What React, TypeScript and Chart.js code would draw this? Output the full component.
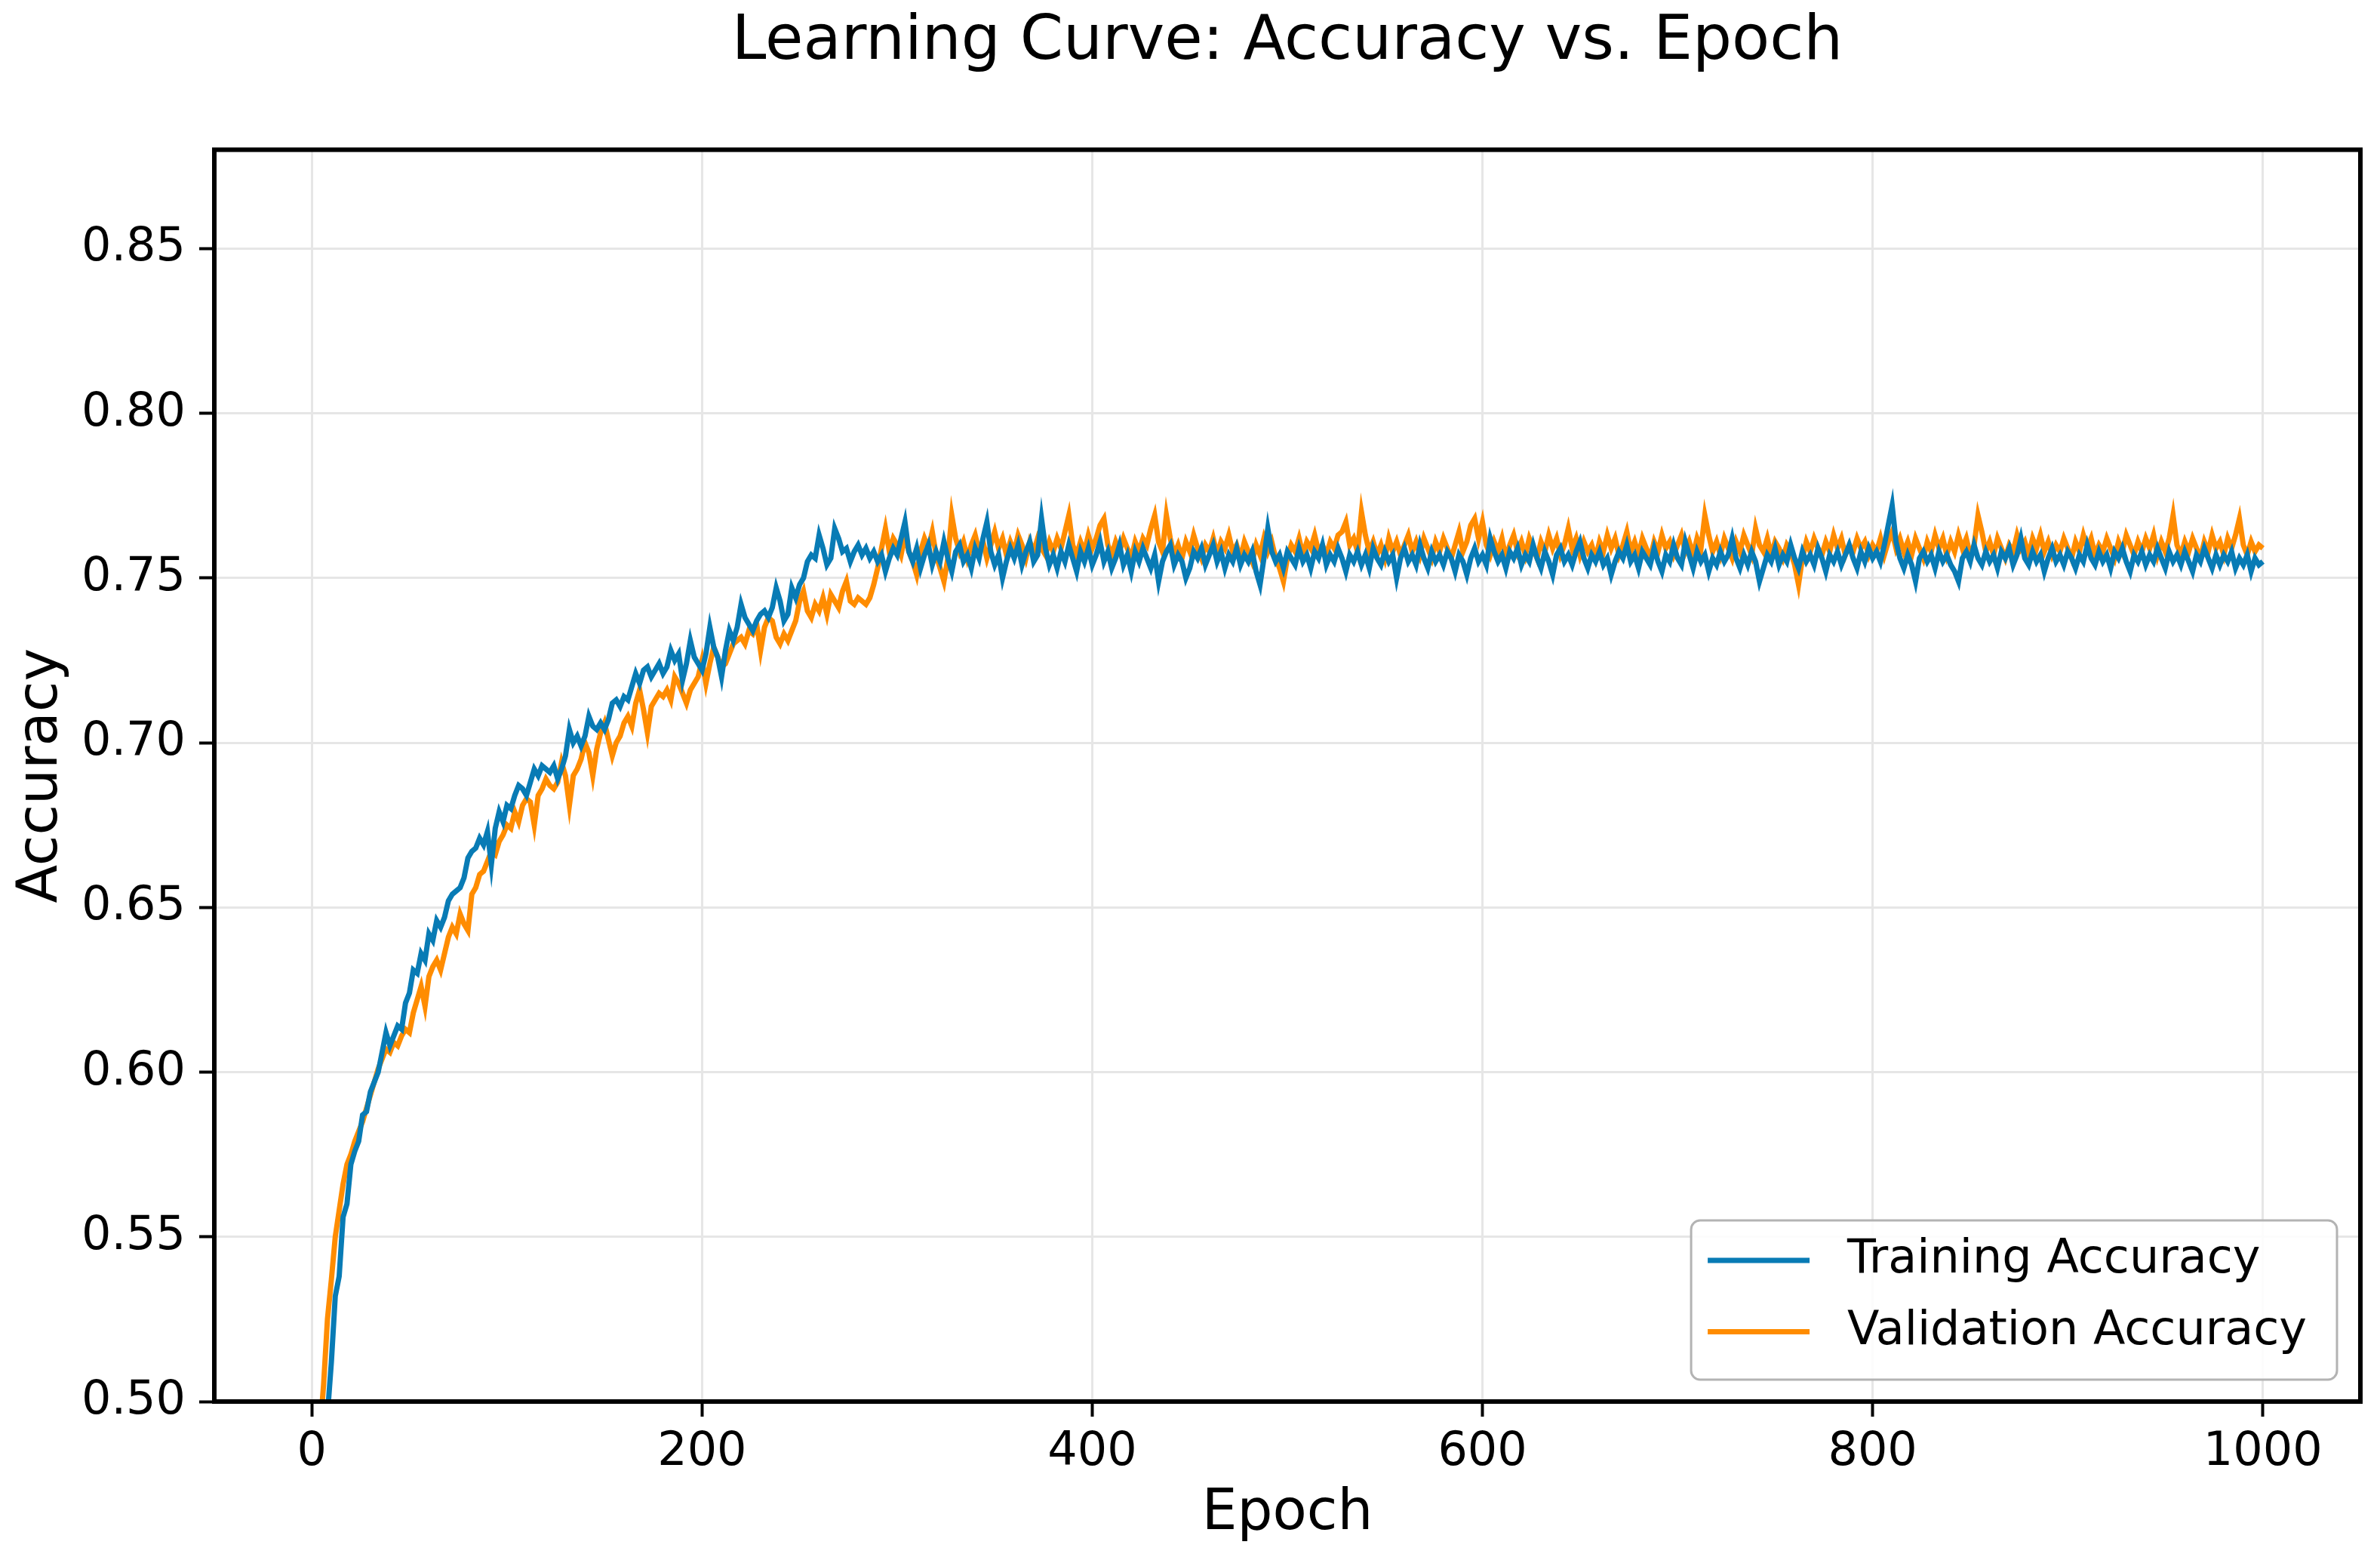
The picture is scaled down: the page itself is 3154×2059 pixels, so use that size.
import { useEffect, useRef } from 'react';
import Chart from 'chart.js/auto';

const TITLE = 'Learning Curve: Accuracy vs. Epoch';
const seriesLabels = ['Training Accuracy', 'Validation Accuracy'];
const seriesColors = ['#087bb5', '#ff8c00'];
const xTicks = [0, 200, 400, 600, 800, 1000];
const yTicks = [0.5, 0.55, 0.6, 0.65, 0.7, 0.75, 0.8, 0.85];
const EPOCH_STEP = 2;

// one value every 2 epochs (0 .. 1000), 10 per row
const trainAcc = [
  0.380, 0.410, 0.440, 0.470, 0.496, 0.512, 0.532, 0.538, 0.556, 0.560,
  0.572, 0.576, 0.579, 0.587, 0.588, 0.594, 0.597, 0.600, 0.606, 0.612,
  0.608, 0.611, 0.614, 0.613, 0.621, 0.624, 0.631, 0.630, 0.636, 0.634,
  0.642, 0.640, 0.646, 0.644, 0.647, 0.652, 0.654, 0.655, 0.656, 0.659,
  0.665, 0.667, 0.668, 0.671, 0.669, 0.673, 0.663, 0.674, 0.679, 0.676,
  0.681, 0.680, 0.684, 0.687, 0.686, 0.684, 0.688, 0.692, 0.690, 0.693,
  0.692, 0.691, 0.693, 0.689, 0.692, 0.696, 0.704, 0.700, 0.702, 0.699,
  0.702, 0.708, 0.705, 0.704, 0.706, 0.704, 0.707, 0.712, 0.713, 0.711,
  0.714, 0.713, 0.717, 0.721, 0.718, 0.722, 0.723, 0.720, 0.722, 0.724,
  0.721, 0.723, 0.728, 0.725, 0.727, 0.719, 0.724, 0.731, 0.726, 0.724,
  0.722, 0.727, 0.735, 0.729, 0.726, 0.720, 0.728, 0.734, 0.731, 0.735,
  0.742, 0.738, 0.736, 0.734, 0.737, 0.739, 0.740, 0.738, 0.741, 0.747,
  0.743, 0.737, 0.739, 0.747, 0.744, 0.748, 0.750, 0.755, 0.757, 0.756,
  0.763, 0.759, 0.754, 0.756, 0.765, 0.762, 0.758, 0.759, 0.755, 0.758,
  0.760, 0.757, 0.759, 0.756, 0.758, 0.755, 0.757, 0.752, 0.756, 0.759,
  0.757, 0.762, 0.767, 0.758, 0.755, 0.759, 0.753, 0.757, 0.760, 0.754,
  0.758, 0.755, 0.761, 0.756, 0.752, 0.758, 0.760, 0.755, 0.757, 0.753,
  0.759, 0.756, 0.762, 0.767, 0.758, 0.754, 0.757, 0.750, 0.755, 0.759,
  0.756, 0.760, 0.754, 0.758, 0.761, 0.755, 0.757, 0.768, 0.759, 0.754,
  0.757, 0.753, 0.758, 0.755, 0.760, 0.756, 0.752, 0.758, 0.755, 0.759,
  0.754, 0.757, 0.761, 0.755, 0.758, 0.753, 0.756, 0.760, 0.754, 0.757,
  0.752, 0.758, 0.755, 0.759, 0.756, 0.753, 0.757, 0.749, 0.755, 0.758,
  0.760, 0.754, 0.757, 0.755, 0.750, 0.753, 0.758, 0.756, 0.759, 0.754,
  0.757, 0.760, 0.755, 0.758, 0.753, 0.757, 0.755, 0.759, 0.754, 0.757,
  0.755, 0.758, 0.752, 0.748, 0.756, 0.765, 0.758, 0.755, 0.757, 0.753,
  0.758, 0.756, 0.754, 0.759, 0.755, 0.757, 0.753, 0.758, 0.756, 0.760,
  0.754, 0.757, 0.755, 0.759, 0.756, 0.752, 0.757, 0.755, 0.758, 0.754,
  0.757, 0.753, 0.759, 0.756, 0.754, 0.758, 0.755, 0.757, 0.750, 0.756,
  0.759, 0.755, 0.757, 0.754, 0.760, 0.756, 0.753, 0.758, 0.755, 0.757,
  0.754, 0.758, 0.756, 0.752, 0.757, 0.755, 0.751, 0.756, 0.759, 0.755,
  0.757, 0.754, 0.762, 0.758, 0.755, 0.757, 0.753, 0.758, 0.756, 0.759,
  0.754, 0.757, 0.755, 0.760, 0.756, 0.753, 0.758, 0.755, 0.751, 0.757,
  0.759, 0.755, 0.757, 0.754, 0.758, 0.761, 0.756, 0.753, 0.757, 0.755,
  0.758, 0.754, 0.756, 0.751, 0.755, 0.758, 0.756, 0.760, 0.755, 0.757,
  0.753, 0.758, 0.756, 0.754, 0.759, 0.755, 0.752, 0.757, 0.755, 0.760,
  0.756, 0.754, 0.761, 0.757, 0.753, 0.758, 0.755, 0.757, 0.752, 0.756,
  0.754, 0.758, 0.755, 0.757, 0.762, 0.756, 0.753, 0.757, 0.754, 0.758,
  0.755, 0.749, 0.753, 0.757, 0.755, 0.759, 0.754, 0.757, 0.755, 0.760,
  0.756, 0.753, 0.758, 0.755, 0.757, 0.754, 0.759, 0.756, 0.752, 0.757,
  0.755, 0.758, 0.754, 0.757, 0.760, 0.756, 0.753, 0.758, 0.755, 0.759,
  0.756, 0.758, 0.755, 0.760, 0.766, 0.772, 0.761, 0.756, 0.753, 0.757,
  0.754, 0.749, 0.756, 0.758, 0.755, 0.757, 0.753, 0.758, 0.755, 0.757,
  0.754, 0.752, 0.749, 0.756, 0.758, 0.755, 0.760, 0.756, 0.754, 0.758,
  0.755, 0.757, 0.753, 0.758, 0.756, 0.759, 0.754, 0.757, 0.762, 0.756,
  0.754, 0.758, 0.755, 0.757, 0.752, 0.756, 0.759, 0.755, 0.757, 0.754,
  0.758, 0.756, 0.753, 0.757, 0.755, 0.760, 0.756, 0.754, 0.758, 0.755,
  0.757, 0.753, 0.758, 0.756, 0.759, 0.755, 0.752, 0.757, 0.755, 0.758,
  0.754, 0.757, 0.755, 0.759, 0.756, 0.753, 0.758, 0.755, 0.757, 0.754,
  0.758, 0.755, 0.752, 0.757, 0.755, 0.759, 0.756, 0.753, 0.757, 0.754,
  0.757, 0.755, 0.758, 0.753, 0.756, 0.754, 0.757, 0.752, 0.756, 0.754,
  0.755,
];

const valAcc = [
  0.420, 0.455, 0.490, 0.505, 0.525, 0.537, 0.550, 0.558, 0.566, 0.572,
  0.575, 0.579, 0.582, 0.585, 0.589, 0.593, 0.597, 0.601, 0.604, 0.607,
  0.606, 0.609, 0.608, 0.611, 0.613, 0.612, 0.618, 0.622, 0.626, 0.620,
  0.629, 0.632, 0.634, 0.631, 0.636, 0.641, 0.644, 0.642, 0.648, 0.645,
  0.643, 0.654, 0.656, 0.660, 0.661, 0.664, 0.667, 0.666, 0.670, 0.672,
  0.675, 0.674, 0.679, 0.676, 0.681, 0.683, 0.682, 0.675, 0.684, 0.686,
  0.689, 0.687, 0.686, 0.688, 0.694, 0.690, 0.681, 0.690, 0.692, 0.695,
  0.700, 0.697, 0.690, 0.698, 0.703, 0.706, 0.701, 0.696, 0.700, 0.702,
  0.706, 0.708, 0.705, 0.712, 0.716, 0.710, 0.703, 0.711, 0.713, 0.715,
  0.714, 0.716, 0.713, 0.720, 0.718, 0.715, 0.712, 0.716, 0.718, 0.720,
  0.725, 0.718, 0.724, 0.729, 0.726, 0.723, 0.724, 0.727, 0.730, 0.731,
  0.732, 0.730, 0.734, 0.733, 0.736, 0.728, 0.735, 0.738, 0.737, 0.732,
  0.730, 0.733, 0.731, 0.734, 0.737, 0.743, 0.746, 0.740, 0.738, 0.742,
  0.740, 0.744, 0.739, 0.745, 0.743, 0.741, 0.746, 0.749, 0.743, 0.742,
  0.744, 0.743, 0.742, 0.744, 0.748, 0.753, 0.759, 0.765, 0.758, 0.762,
  0.760, 0.757, 0.763, 0.758, 0.755, 0.751, 0.758, 0.762, 0.759, 0.764,
  0.757, 0.753, 0.749, 0.756, 0.769, 0.762, 0.758, 0.761, 0.756, 0.760,
  0.763, 0.758, 0.761, 0.756, 0.760, 0.764, 0.759, 0.762, 0.757, 0.761,
  0.758, 0.763, 0.760, 0.756, 0.761, 0.758, 0.762, 0.759, 0.757, 0.761,
  0.758, 0.762, 0.759, 0.764, 0.769, 0.760, 0.757, 0.761, 0.758, 0.763,
  0.759, 0.762, 0.766, 0.768, 0.760, 0.757, 0.761, 0.758, 0.762, 0.759,
  0.756, 0.761, 0.758, 0.762, 0.760, 0.765, 0.769, 0.761, 0.758, 0.769,
  0.762, 0.757, 0.760, 0.756, 0.761, 0.758, 0.763, 0.759, 0.756, 0.760,
  0.758, 0.762, 0.757, 0.761, 0.759, 0.763, 0.758, 0.760, 0.756, 0.761,
  0.758, 0.755, 0.760, 0.757, 0.762, 0.758, 0.761, 0.756, 0.753, 0.749,
  0.756, 0.760, 0.758, 0.762, 0.757, 0.761, 0.759, 0.763, 0.758, 0.760,
  0.757, 0.761, 0.759, 0.763, 0.764, 0.767, 0.760, 0.762, 0.758, 0.770,
  0.763, 0.758, 0.761, 0.757, 0.760, 0.756, 0.762, 0.758, 0.761, 0.757,
  0.760, 0.763, 0.758, 0.761, 0.757, 0.762, 0.759, 0.756, 0.761, 0.758,
  0.762, 0.759, 0.756, 0.760, 0.764, 0.758, 0.761, 0.766, 0.768, 0.762,
  0.767, 0.760, 0.757, 0.761, 0.758, 0.762, 0.756, 0.760, 0.763, 0.758,
  0.761, 0.757, 0.762, 0.759, 0.756, 0.761, 0.758, 0.763, 0.759, 0.762,
  0.757, 0.760, 0.765, 0.759, 0.762, 0.757, 0.761, 0.758, 0.760, 0.756,
  0.761, 0.758, 0.763, 0.759, 0.762, 0.757, 0.760, 0.764, 0.758, 0.761,
  0.757, 0.762, 0.759, 0.756, 0.761, 0.758, 0.763, 0.759, 0.761, 0.757,
  0.760, 0.763, 0.758, 0.761, 0.757, 0.762, 0.759, 0.769, 0.763, 0.758,
  0.761, 0.757, 0.762, 0.759, 0.756, 0.761, 0.758, 0.763, 0.760, 0.757,
  0.765, 0.760, 0.758, 0.762, 0.757, 0.761, 0.759, 0.756, 0.760, 0.758,
  0.754, 0.748, 0.756, 0.761, 0.758, 0.762, 0.759, 0.757, 0.761, 0.758,
  0.763, 0.759, 0.762, 0.757, 0.760, 0.758, 0.762, 0.759, 0.761, 0.757,
  0.760, 0.758, 0.762, 0.757, 0.761, 0.764, 0.759, 0.762, 0.758, 0.761,
  0.757, 0.762, 0.759, 0.756, 0.761, 0.758, 0.763, 0.759, 0.762, 0.757,
  0.761, 0.758, 0.763, 0.759, 0.762, 0.757, 0.760, 0.769, 0.764, 0.758,
  0.761, 0.757, 0.762, 0.759, 0.756, 0.760, 0.758, 0.763, 0.759, 0.761,
  0.757, 0.762, 0.759, 0.763, 0.758, 0.761, 0.757, 0.760, 0.758, 0.762,
  0.759, 0.756, 0.761, 0.758, 0.763, 0.759, 0.762, 0.757, 0.760, 0.758,
  0.762, 0.759, 0.756, 0.761, 0.758, 0.763, 0.760, 0.757, 0.761, 0.758,
  0.762, 0.759, 0.763, 0.757, 0.761, 0.758, 0.762, 0.769, 0.760, 0.757,
  0.761, 0.758, 0.762, 0.759, 0.756, 0.761, 0.758, 0.763, 0.759, 0.761,
  0.757, 0.762, 0.759, 0.763, 0.768, 0.760, 0.757, 0.761, 0.758, 0.760,
  0.759,
];

const epochs = trainAcc.map((_, i) => i * EPOCH_STEP);

const FONT = '"DejaVu Sans", sans-serif';

// matplotlib-like frame (all four spines) and a boxed legend in the lower right
const frameAndLegend = {
  id: 'frameAndLegend',
  afterDraw(chart: any) {
    const { ctx, chartArea: a } = chart;
    ctx.save();
    ctx.strokeStyle = '#000';
    ctx.lineWidth = 6;
    ctx.strokeRect(a.left, a.top, a.right - a.left, a.bottom - a.top);

    ctx.font = `62px ${FONT}`;
    const sets = chart.data.datasets;
    const textW = Math.max(...sets.map((d: any) => ctx.measureText(d.label).width));
    const w = 207 + textW + 40;
    const h = 211;
    const x = a.right - 31 - w;
    const y = a.bottom - 29 - h;
    ctx.beginPath();
    ctx.roundRect(x, y, w, h, 12);
    ctx.fillStyle = 'rgba(255,255,255,0.85)';
    ctx.fill();
    ctx.strokeStyle = '#b3b3b3';
    ctx.lineWidth = 3;
    ctx.stroke();

    sets.forEach((d: any, i: number) => {
      const cy = y + 53 + i * 94.5;
      ctx.strokeStyle = d.borderColor;
      ctx.lineWidth = 7;
      ctx.beginPath();
      ctx.moveTo(x + 22, cy);
      ctx.lineTo(x + 157, cy);
      ctx.stroke();
      ctx.fillStyle = '#000';
      ctx.textAlign = 'left';
      ctx.textBaseline = 'middle';
      ctx.fillText(d.label, x + 207, cy);
    });
    ctx.restore();
  },
};

export default function App() {
  const ref = useRef<HTMLCanvasElement | null>(null);

  useEffect(() => {
    if (!ref.current) return;
    const grid = {
      color: '#e6e6e6',
      lineWidth: 3,
      tickColor: '#000',
      tickWidth: 4,
      tickLength: 20,
    };
    const chart = new Chart(ref.current, {
      type: 'line',
      data: {
        datasets: [trainAcc, valAcc].map((vals, k) => ({
          label: seriesLabels[k],
          data: epochs.map((e, i) => ({ x: e, y: vals[i] })),
          borderColor: seriesColors[k],
          backgroundColor: seriesColors[k],
          borderWidth: 7,
          pointRadius: 0,
          tension: 0,
        })),
      },
      options: {
        animation: false,
        responsive: true,
        maintainAspectRatio: false,
        layout: { padding: { left: 0, right: 18, top: 0, bottom: 0 } },
        plugins: {
          legend: { display: false },
          tooltip: { enabled: false },
          title: {
            display: true,
            fullSize: false,
            text: TITLE,
            color: '#000',
            font: { family: FONT, size: 82, weight: 'normal' },
            padding: { top: 0, bottom: 92 },
          },
        },
        scales: {
          x: {
            type: 'linear',
            min: -50,
            max: 1050,
            afterBuildTicks: (s: any) => { s.ticks = xTicks.map((value) => ({ value })); },
            afterFit: (s: any) => { s.height = 194; },
            grid,
            border: { display: false },
            ticks: {
              color: '#000',
              font: { family: FONT, size: 62 },
              padding: 11,
              maxRotation: 0,
              autoSkip: false,
              callback: (v: any) => String(v),
            },
            title: {
              display: true,
              text: 'Epoch',
              color: '#000',
              font: { family: FONT, size: 74 },
              padding: { top: 0, bottom: 0 },
            },
          },
          y: {
            min: 0.5,
            max: 0.88,
            afterBuildTicks: (s: any) => { s.ticks = yTicks.map((value) => ({ value })); },
            afterFit: (s: any) => { s.width = 276; },
            grid,
            border: { display: false },
            ticks: {
              color: '#000',
              font: { family: FONT, size: 62 },
              padding: 18,
              autoSkip: false,
              callback: (v: any) => Number(v).toFixed(2),
            },
            title: {
              display: true,
              text: 'Accuracy',
              color: '#000',
              font: { family: FONT, size: 74 },
              padding: { top: 3, bottom: 0 },
            },
          },
        },
      },
      plugins: [frameAndLegend],
    });
    return () => chart.destroy();
  }, []);

  return (
    <div style={{ position: 'relative', width: 3138, height: 2043 }}>
      <canvas ref={ref} aria-label="Learning curve: accuracy vs. epoch" />
    </div>
  );
}
